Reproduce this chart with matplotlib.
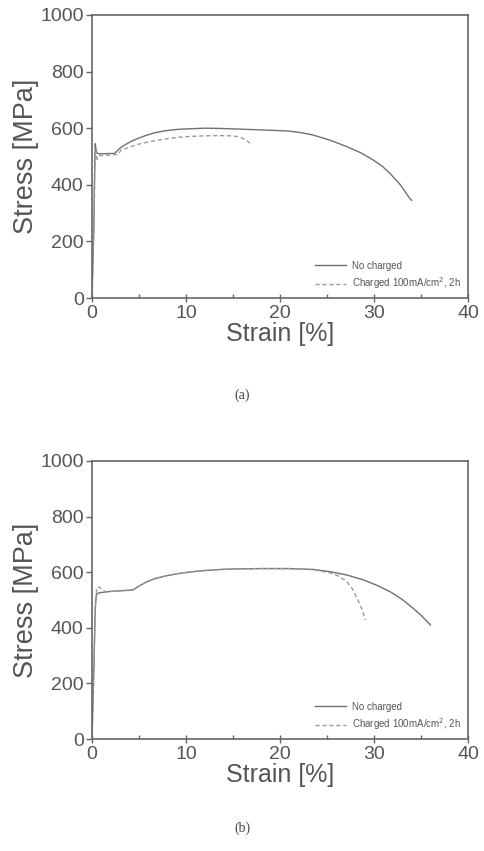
import matplotlib
matplotlib.use("Agg")
import matplotlib.pyplot as plt
from matplotlib.ticker import MultipleLocator

plt.rcParams['font.family'] = ['Liberation Sans', 'DejaVu Sans']

# (a) data
a_nc_x = [0.0, 0.2, 0.3, 0.35, 0.45, 0.6, 1.5, 2.4, 3.0, 3.6, 4.2, 4.9, 5.8, 6.7, 7.8, 9.15, 10.5, 12.0, 13.8, 15.5, 18.0, 20.9, 22.3, 23.5, 25.3, 27.1, 28.6, 29.9, 30.9, 31.7, 32.8, 33.8, 34.0]
a_nc_y = [0, 250, 480, 545, 520, 510, 510, 511, 530, 543, 554, 564, 575, 584, 591, 596, 598, 600, 599, 597, 594, 590, 584, 576, 558, 535, 513, 488, 465, 440, 400, 352, 345]
a_ch_x = [0.0, 0.2, 0.3, 0.4, 0.55, 0.8, 2.0, 2.8, 3.1, 4.0, 4.9, 5.8, 6.7, 7.9, 9.15, 10.5, 12.0, 13.5, 14.8, 15.4, 15.9, 16.4, 16.8]
a_ch_y = [0, 250, 450, 520, 490, 503, 505, 508, 523, 533, 543, 550, 556, 562, 568, 571, 573, 574, 573, 571, 566, 558, 547]

# (b) data
b_nc_x = [0.0, 0.2, 0.35, 0.46, 0.6, 1.0, 2.0, 3.0, 4.36, 5.0, 5.8, 6.7, 7.9, 9.15, 10.5, 12.0, 13.8, 15.5, 18.0, 20.9, 23.5, 25.3, 27.1, 28.9, 30.3, 31.7, 33.0, 34.2, 35.1, 36.0]
b_nc_y = [0, 250, 470, 518, 524, 527, 531, 533, 536, 550, 565, 577, 587, 595, 601, 606, 610, 612, 613, 613, 610, 602, 590, 572, 553, 530, 502, 469, 442, 410]
b_ch_x = [0.0, 0.2, 0.35, 0.5, 0.8, 1.0, 1.4, 2.0, 3.0, 4.36, 5.0, 5.8, 6.7, 7.9, 9.15, 10.5, 12.0, 13.8, 15.5, 18.0, 20.9, 23.5, 25.3, 26.3, 27.1, 27.7, 28.2, 28.7, 29.1]
b_ch_y = [0, 250, 470, 545, 546, 540, 530, 531, 533, 536, 550, 565, 577, 587, 595, 601, 606, 610, 612, 613, 613, 609, 598, 585, 566, 540, 506, 468, 428]

x_ticks = [0, 10, 20, 30, 40]
y_ticks = [0, 200, 400, 600, 800, 1000]
labels = ['No charged', 'Charged 100mA/cm$^2$, 2h']
captions = ['(a)', '(b)']

fig = plt.figure(figsize=(4.84, 8.51), dpi=100)
txt = '#555555'
panels = [
    ([0.190, 0.6498, 0.777, 0.3326], a_nc_x, a_nc_y, a_ch_x, a_ch_y),
    ([0.190, 0.1316, 0.777, 0.3267], b_nc_x, b_nc_y, b_ch_x, b_ch_y),
]
cap_y = [1 - 395 / 851, 1 - 828 / 851]
for i, (pos, nx, ny, cx, cy) in enumerate(panels):
    ax = fig.add_axes(pos)
    ax.plot(nx, ny, color='#707070', lw=1.0, ls='-', label=labels[0])
    ax.plot(cx, cy, color='#9a9a9a', lw=1.0, ls=(0, (3, 2)), label=labels[1])
    ax.set_xlim(0, 40)
    ax.set_ylim(0, 1000)
    ax.set_xticks(x_ticks)
    ax.set_yticks(y_ticks)
    ax.xaxis.set_minor_locator(MultipleLocator(5))
    ax.tick_params(axis='x', which='major', direction='inout', length=6, width=1, colors='#666666', labelcolor=txt, labelsize=14, pad=2)
    ax.tick_params(axis='x', which='minor', direction='in', length=3, width=1, colors='#666666')
    ax.tick_params(axis='y', which='major', direction='out', length=4, width=1, colors='#666666', labelcolor=txt, labelsize=14, pad=2)
    for s in ax.spines.values():
        s.set_color('#666666')
        s.set_linewidth(1.2)
    ax.set_xlabel('Strain [%]', fontsize=18, color=txt, labelpad=0)
    ax.set_ylabel('Stress [MPa]', fontsize=19.5, color=txt, labelpad=1)
    leg = ax.legend(loc='lower right', frameon=False, fontsize=7, handlelength=3.2,
                    labelcolor=txt, borderaxespad=0.3, handletextpad=0.6)
    fig.text(242 / 484, cap_y[i], captions[i], ha='center', va='center',
             fontsize=10, color='#444444', family=['Liberation Serif', 'DejaVu Serif'])

fig.savefig('out.png', dpi=100, facecolor='white')
